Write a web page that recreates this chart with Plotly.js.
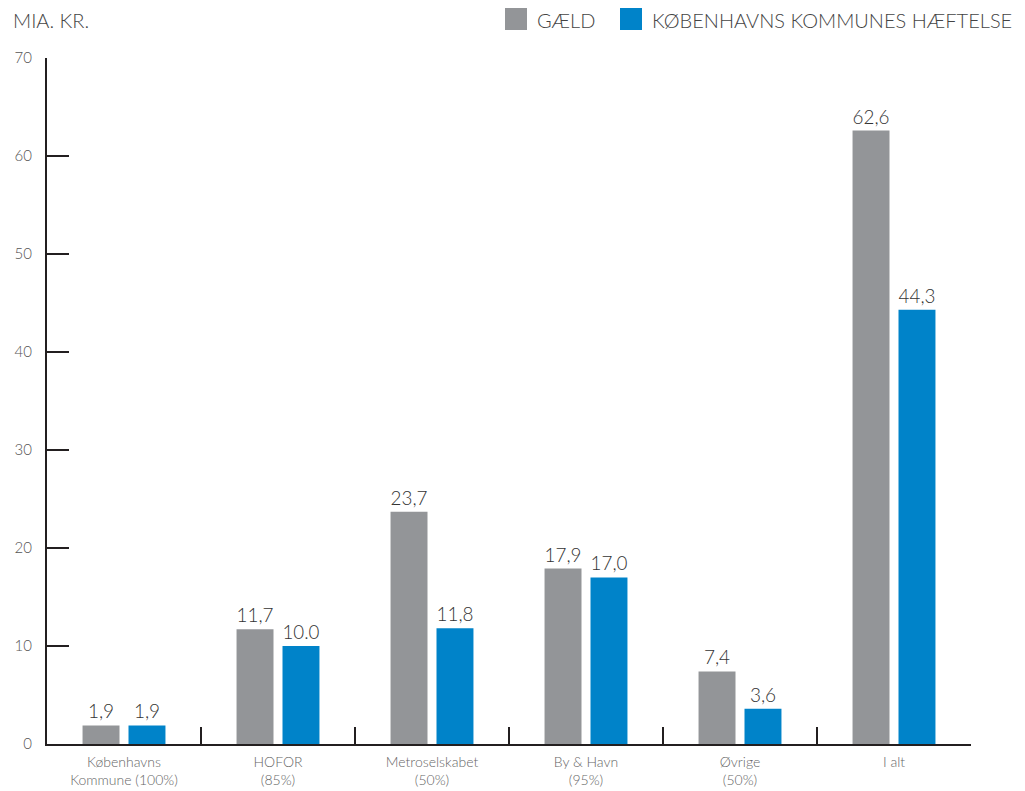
<!DOCTYPE html>
<html>
<head>
<meta charset="utf-8">
<script src="https://cdn.plot.ly/plotly-3.0.1.min.js"></script>
<style>html,body{margin:0;padding:0;background:#fff;}#chart{width:1025px;height:791px;}</style>
</head>
<body>
<div id="chart"></div>
<script>
const categories = ["Københavns<br>Kommune (100%)", "HOFOR<br>(85%)", "Metroselskabet<br>(50%)", "By & Havn<br>(95%)", "Øvrige<br>(50%)", "I alt"];
const gaeld = [1.9, 11.7, 23.7, 17.9, 7.4, 62.6];
const haeftelse = [1.9, 10.0, 11.8, 17.0, 3.6, 44.3];
const gaeldLabels = ["1,9", "11,7", "23,7", "17,9", "7,4", "62,6"];
const haeftelseLabels = ["1,9", "10.0", "11,8", "17,0", "3,6", "44,3"];
const seriesNames = ["GÆLD", "KØBENHAVNS KOMMUNES HÆFTELSE"];
const yTicks = [0, 10, 20, 30, 40, 50, 60, 70];

const FONT = "Lato, 'Open Sans', sans-serif";
const GRAY = "#939598";
const BLUE = "#0083c9";

const traces = [
  {type: "bar", x: categories, y: gaeld, name: seriesNames[0], marker: {color: GRAY},
   text: gaeldLabels, textposition: "outside", cliponaxis: false,
   textfont: {family: FONT, size: 19, color: "#333", weight: 300}, hoverinfo: "skip"},
  {type: "bar", x: categories, y: haeftelse, name: seriesNames[1], marker: {color: BLUE},
   text: haeftelseLabels, textposition: "outside", cliponaxis: false,
   textfont: {family: FONT, size: 19, color: "#333", weight: 300}, hoverinfo: "skip"}
];

function px(x){ return (x - 47) / 924; }
function py(y){ return (744 - y) / 686; }

const layout = {
  width: 1025, height: 791,
  margin: {l: 47, r: 54, t: 58, b: 47},
  paper_bgcolor: "#fff", plot_bgcolor: "#fff",
  barmode: "group", bargap: 0.403, bargroupgap: 0.196,
  showlegend: false,
  font: {family: FONT, color: "#555"},
  xaxis: {
    type: "category", showgrid: false, zeroline: false,
    showline: true, linecolor: "#231f20", linewidth: 2,
    ticks: "inside", tickson: "boundaries", ticklen: 17, tickwidth: 2, tickcolor: "#231f20",
    tickfont: {family: FONT, size: 14, color: "#666", weight: 300},
    ticklabelstandoff: 4
  },
  yaxis: {
    range: [0, 70], tickvals: yTicks, showgrid: false, zeroline: false,
    showline: true, linecolor: "#231f20", linewidth: 2,
    ticks: "inside", ticklen: 22, tickwidth: 2, tickcolor: "#231f20",
    tickfont: {family: FONT, size: 15, color: "#555", weight: 300},
    ticklabelstandoff: 10
  },
  shapes: [
    {type: "rect", xref: "paper", yref: "paper", x0: px(505), x1: px(527), y0: py(30), y1: py(8), fillcolor: GRAY, line: {width: 0}},
    {type: "rect", xref: "paper", yref: "paper", x0: px(620), x1: px(642), y0: py(30), y1: py(8), fillcolor: BLUE, line: {width: 0}}
  ],
  annotations: [
    {xref: "paper", yref: "paper", x: px(535), y: py(20), xanchor: "left", yanchor: "middle", showarrow: false,
     text: seriesNames[0], font: {family: FONT, size: 20, color: "#444", weight: 300}},
    {xref: "paper", yref: "paper", x: px(650), y: py(20), xanchor: "left", yanchor: "middle", showarrow: false,
     text: seriesNames[1], font: {family: FONT, size: 20, color: "#444", weight: 300}},
    {xref: "paper", yref: "paper", x: px(11), y: py(20), xanchor: "left", yanchor: "middle", showarrow: false,
     text: "MIA. KR.", font: {family: FONT, size: 20, color: "#444", weight: 300}}
  ]
};

Plotly.newPlot("chart", traces, layout, {displayModeBar: false, staticPlot: true});
</script>
</body>
</html>
